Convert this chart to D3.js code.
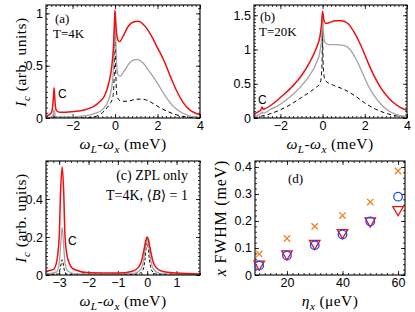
<!DOCTYPE html>
<html>
<head>
<meta charset="utf-8">
<script src="https://cdn.jsdelivr.net/npm/d3@7"></script>
<style>
body { margin: 0; background: #fff; }
text { font-family: "Liberation Sans", Arial, sans-serif; }
.serif { font-family: "Liberation Serif", "DejaVu Serif", serif; }
</style>
</head>
<body>
<div id="chart"></div>
<script>
var W = 415, H = 312;
var RED = "#ee1010", GREY = "#a3a3a3", BLUE = "#2848ff", ORANGE = "#f5801e";

// ---- panel (a) T=4K : [omega_L - omega_x, I_c]
var aRed = [[-3.25,0.02],[-3.1,0.03],[-3.0,0.05],[-2.95,0.09],[-2.9,0.2],[-2.87,0.29],[-2.84,0.2],[-2.8,0.1],[-2.75,0.07],[-2.6,0.055],[-2.3,0.055],[-2,0.06],[-1.5,0.075],[-1,0.11],[-0.7,0.16],[-0.5,0.21],[-0.3,0.33],[-0.15,0.5],[-0.07,0.7],[-0.02,0.95],[0,1.03],[0.03,0.93],[0.08,0.8],[0.15,0.74],[0.22,0.73],[0.35,0.77],[0.6,0.87],[0.9,0.92],[1.1,0.925],[1.4,0.88],[1.7,0.79],[2.0,0.67],[2.3,0.55],[2.6,0.4],[2.9,0.26],[3.2,0.15],[3.5,0.08],[3.8,0.045],[4,0.03]];
var aGrey = [[-3.25,0.0],[-2.95,0.01],[-2.87,0.08],[-2.8,0.01],[-2,0.01],[-1.5,0.02],[-1,0.04],[-0.6,0.08],[-0.35,0.15],[-0.15,0.3],[-0.06,0.55],[-0.02,0.85],[0,1.01],[0.03,0.8],[0.08,0.5],[0.15,0.41],[0.25,0.4],[0.4,0.44],[0.7,0.53],[1.0,0.56],[1.3,0.53],[1.6,0.45],[2.0,0.33],[2.4,0.2],[2.8,0.1],[3.2,0.045],[3.6,0.015],[4,0.005]];
var aDash = [[-3.25,0],[-2.9,0.0],[-2.87,0.04],[-2.84,0],[-1.5,0],[-1,0.01],[-0.6,0.05],[-0.3,0.12],[-0.1,0.2],[-0.04,0.4],[-0.01,0.8],[0,1.0],[0.01,0.8],[0.04,0.4],[0.1,0.2],[0.3,0.16],[0.6,0.16],[1.0,0.18],[1.3,0.18],[1.7,0.15],[2.1,0.1],[2.5,0.06],[2.9,0.03],[3.3,0.012],[3.7,0.004],[4,0]];

// ---- panel (b) T=20K
var bRed = [[-3.25,0.06],[-3.0,0.1],[-2.92,0.12],[-2.87,0.16],[-2.82,0.13],[-2.7,0.14],[-2.3,0.22],[-2,0.3],[-1.5,0.44],[-1,0.62],[-0.6,0.82],[-0.3,1.02],[-0.12,1.2],[-0.04,1.4],[0,1.56],[0.05,1.45],[0.15,1.38],[0.3,1.39],[0.6,1.42],[0.9,1.42],[1.2,1.38],[1.5,1.25],[1.8,1.07],[2.1,0.85],[2.4,0.64],[2.7,0.47],[3.0,0.34],[3.3,0.24],[3.6,0.17],[4,0.11]];
var bGrey = [[-3.25,0.02],[-3.0,0.05],[-2.87,0.08],[-2.8,0.07],[-2.5,0.12],[-2,0.2],[-1.5,0.32],[-1,0.47],[-0.6,0.63],[-0.3,0.8],[-0.12,0.98],[-0.04,1.2],[0,1.52],[0.04,1.25],[0.12,1.1],[0.3,1.07],[0.6,1.07],[1.0,1.06],[1.3,1.0],[1.6,0.85],[1.9,0.65],[2.2,0.45],[2.5,0.3],[2.8,0.19],[3.1,0.11],[3.5,0.05],[4,0.02]];
var bDash = [[-3.25,0],[-3,0.02],[-2.5,0.06],[-2,0.12],[-1.5,0.2],[-1,0.3],[-0.6,0.38],[-0.3,0.45],[-0.12,0.5],[-0.04,0.7],[-0.01,1.1],[0,1.5],[0.01,1.1],[0.04,0.7],[0.12,0.55],[0.5,0.48],[1.0,0.42],[1.5,0.33],[2.0,0.22],[2.5,0.13],[3.0,0.07],[3.5,0.03],[4,0.01]];

// ---- panel (c) ZPL only
var cRed = [[-3.45,0.02],[-3.2,0.03],[-3.1,0.06],[-3.0,0.2],[-2.95,0.45],[-2.9,0.57],[-2.85,0.45],[-2.8,0.2],[-2.7,0.08],[-2.5,0.03],[-2,0.012],[-1,0.01],[-0.5,0.02],[-0.3,0.04],[-0.2,0.07],[-0.1,0.14],[-0.05,0.18],[0,0.2],[0.05,0.18],[0.1,0.14],[0.2,0.07],[0.3,0.04],[0.5,0.02],[1,0.01],[1.8,0.005]];
var cGrey = [[-3.45,0.005],[-3.1,0.015],[-3.0,0.06],[-2.95,0.16],[-2.9,0.25],[-2.85,0.16],[-2.8,0.06],[-2.7,0.02],[-2.4,0.005],[-1,0.004],[-0.4,0.01],[-0.2,0.035],[-0.1,0.1],[-0.05,0.16],[0,0.19],[0.05,0.16],[0.1,0.1],[0.2,0.035],[0.4,0.01],[1,0.003],[1.8,0.002]];
var cDash = [[-3.45,0],[-3.05,0.005],[-2.97,0.03],[-2.9,0.08],[-2.83,0.03],[-2.75,0.005],[-2,0],[-0.3,0.005],[-0.15,0.025],[-0.07,0.09],[-0.03,0.15],[0,0.17],[0.03,0.15],[0.07,0.09],[0.15,0.025],[0.3,0.005],[1.8,0]];

// ---- panel (d) FWHM vs eta_x
var etaX = [10, 20, 30, 40, 50, 60];
var fwhmCross = [0.078, 0.135, 0.18, 0.22, 0.27, 0.385];
var fwhmCircle = [0.035, 0.072, 0.11, 0.15, 0.198, 0.29];
var fwhmTri = [0.04, 0.078, 0.117, 0.157, 0.2, 0.242];

// tick labels
var xTicksAB = [-2, 0, 2, 4];
var yTicksA = [0, 0.5, 1];
var yTicksB = [0, 0.5, 1, 1.5];
var xTicksC = [-3, -2, -1, 0, 1];
var yTicksC = [0, 0.2, 0.4];
var xTicksD = [20, 40, 60];
var yTicksD = [0, 0.1, 0.2, 0.3, 0.4];

var svg = d3.select("#chart").append("svg")
    .attr("width", W).attr("height", H);

// builds a framed panel with inward ticks on all sides
function makePanel(id, box, xd, yd, xMaj, yMaj, xStep, yStep) {
    var g = svg.append("g");
    var x = d3.scaleLinear().domain(xd).range([box[0], box[1]]);
    var y = d3.scaleLinear().domain(yd).range([box[3], box[2]]);
    var fmt = d3.format("~g");
    var xMin = d3.range(Math.ceil(xd[0] / xStep) * xStep, xd[1] + 1e-9, xStep);
    var yMin = d3.range(0, yd[1] + 1e-9, yStep);

    svg.append("clipPath").attr("id", id)
        .append("rect").attr("x", box[0]).attr("y", box[2])
        .attr("width", box[1] - box[0]).attr("height", box[3] - box[2]);

    var axes = [
        [d3.axisBottom(x), "translate(0," + box[3] + ")", xMaj, xMin, true],
        [d3.axisTop(x), "translate(0," + box[2] + ")", xMaj, xMin, false],
        [d3.axisLeft(y), "translate(" + box[0] + ",0)", yMaj, yMin, true],
        [d3.axisRight(y), "translate(" + box[1] + ",0)", yMaj, yMin, false]
    ];
    axes.forEach(function (a) {
        var minor = g.append("g").attr("transform", a[1])
            .call(a[0].tickValues(a[3]).tickSize(-2).tickSizeOuter(0).tickFormat(""));
        minor.select(".domain").remove();
        var major = g.append("g").attr("transform", a[1])
            .call(a[0].tickValues(a[2]).tickSize(-4).tickSizeOuter(0).tickPadding(3)
                .tickFormat(a[4] ? fmt : ""));
        major.select(".domain").remove();
        major.selectAll("text").style("font-size", "12.5px")
            .style("font-family", "'Liberation Sans', Arial, sans-serif");
    });
    g.selectAll(".tick line").attr("stroke", "#000").attr("stroke-width", 0.8);

    var plot = g.append("g").attr("clip-path", "url(#" + id + ")");
    g.append("rect").attr("x", box[0]).attr("y", box[2])
        .attr("width", box[1] - box[0]).attr("height", box[3] - box[2])
        .attr("fill", "none").attr("stroke", "#000").attr("stroke-width", 1.1);
    return {g: g, plot: plot, x: x, y: y};
}

function drawCurve(p, data, color, width, dash) {
    var line = d3.line().x(function (d) { return p.x(d[0]); })
        .y(function (d) { return p.y(d[1]); })
        .curve(d3.curveMonotoneX);
    var path = p.plot.append("path").attr("d", line(data))
        .attr("fill", "none").attr("stroke", color).attr("stroke-width", width);
    if (dash) path.attr("stroke-dasharray", dash);
}

// rich text: parts [{t, i, sub}]
function rich(sel, parts) {
    var shift = 0;
    parts.forEach(function (p) {
        var ts = sel.append("tspan").text(p.t);
        if (p.i) ts.style("font-style", "italic");
        var target = p.sub ? 3.5 : 0;
        if (target !== shift) { ts.attr("dy", target - shift); shift = target; }
        if (p.sub) ts.style("font-size", "0.72em");
    });
}

function label(x, y, parts, size, rotate, anchor, spacing) {
    var t = svg.append("text").attr("class", "serif")
        .attr("text-anchor", anchor || "middle")
        .style("font-size", size + "px");
    if (spacing) t.style("letter-spacing", spacing + "px");
    if (rotate) t.attr("transform", "translate(" + x + "," + y + ") rotate(-90)");
    else t.attr("x", x).attr("y", y);
    rich(t, parts);
    return t;
}

var omegaLabel = [{t: "ω", i: true}, {t: "L", i: true, sub: true}, {t: "-"}, {t: "ω", i: true}, {t: "x", i: true, sub: true}, {t: " (meV)"}];
var icLabel = [{t: "I", i: true}, {t: "c", i: true, sub: true}, {t: " (arb. units)"}];

// ---- (a)
var pa = makePanel("clipA", [46, 200, 5, 118], [-3.25, 4], [0, 1.08], xTicksAB, yTicksA, 0.2, 0.05);
drawCurve(pa, aDash, "#000", 1, "4,3");
drawCurve(pa, aGrey, GREY, 1.3);
drawCurve(pa, aRed, RED, 1.5);
label(55, 23, [{t: "(a)"}], 13, false, "start");
label(53, 38, [{t: "T=4K"}], 13, false, "start");
svg.append("text").attr("x", 58).attr("y", 98).text("C").style("font-size", "12px");
label(123, 149, omegaLabel, 15.5, false, "middle", 0.4);
label(26, 62, icLabel, 15.5, true, "middle", 0.5);

// ---- (b)
var pb = makePanel("clipB", [254, 407, 5, 118], [-3.25, 4], [0, 1.65], xTicksAB, yTicksB, 0.2, 0.05);
drawCurve(pb, bDash, "#000", 1, "4,3");
drawCurve(pb, bGrey, GREY, 1.3);
drawCurve(pb, bRed, RED, 1.5);
label(260, 21, [{t: "(b)"}], 13, false, "start");
label(259, 36, [{t: "T=20K"}], 13, false, "start");
svg.append("text").attr("x", 258).attr("y", 104).text("C").style("font-size", "12px");
label(330, 149, omegaLabel, 15.5, false, "middle", 0.4);

// ---- (c)
var pc = makePanel("clipC", [46, 200, 161, 275], [-3.45, 1.8], [0, 0.6], xTicksC, yTicksC, 0.2, 0.02);
drawCurve(pc, cDash, "#000", 1, "3,2");
drawCurve(pc, cGrey, GREY, 1.3);
drawCurve(pc, cRed, RED, 1.5);
label(188, 180, [{t: "(c) ZPL only"}], 14, false, "end");
label(188, 200, [{t: "T=4K, ⟨"}, {t: "B", i: true}, {t: "⟩ = 1"}], 14, false, "end");
svg.append("text").attr("x", 68).attr("y", 245).text("C").style("font-size", "12px");
label(123, 306, omegaLabel, 15.5, false, "middle", 0.4);
label(26, 218, icLabel, 15.5, true, "middle", 0.5);

// ---- (d)
var pd = makePanel("clipD", [255, 405, 161, 275], [8.5, 62.5], [0, 0.422], xTicksD, yTicksD, 2, 0.02);
label(288, 183, [{t: "(d)"}], 13, false, "start");
label(330, 306, [{t: "η", i: true}, {t: "x", i: true, sub: true}, {t: " (μeV)"}], 15.5, false, "middle", 0.4);
label(226, 218, [{t: "x", i: true}, {t: " FWHM (meV)"}], 16, true, "middle", 0.8);

var marks = pd.g.append("g");
etaX.forEach(function (e, i) {
    var cx = pd.x(e);
    // orange crosses
    var yc = pd.y(fwhmCross[i]), s = 3.2;
    marks.append("path")
        .attr("d", "M" + (cx - s) + "," + (yc - s) + "L" + (cx + s) + "," + (yc + s) +
            "M" + (cx - s) + "," + (yc + s) + "L" + (cx + s) + "," + (yc - s))
        .attr("stroke", ORANGE).attr("stroke-width", 1.3).attr("fill", "none");
    // red down triangles
    marks.append("path")
        .attr("d", d3.symbol().type(d3.symbolTriangle).size(48)())
        .attr("transform", "translate(" + cx + "," + pd.y(fwhmTri[i]) + ") rotate(180)")
        .attr("fill", "none").attr("stroke", RED).attr("stroke-width", 1.3);
    // blue circles
    marks.append("circle").attr("cx", cx).attr("cy", pd.y(fwhmCircle[i])).attr("r", 4.3)
        .attr("fill", "none").attr("stroke", BLUE).attr("stroke-width", 1.3);
});
</script>
</body>
</html>
